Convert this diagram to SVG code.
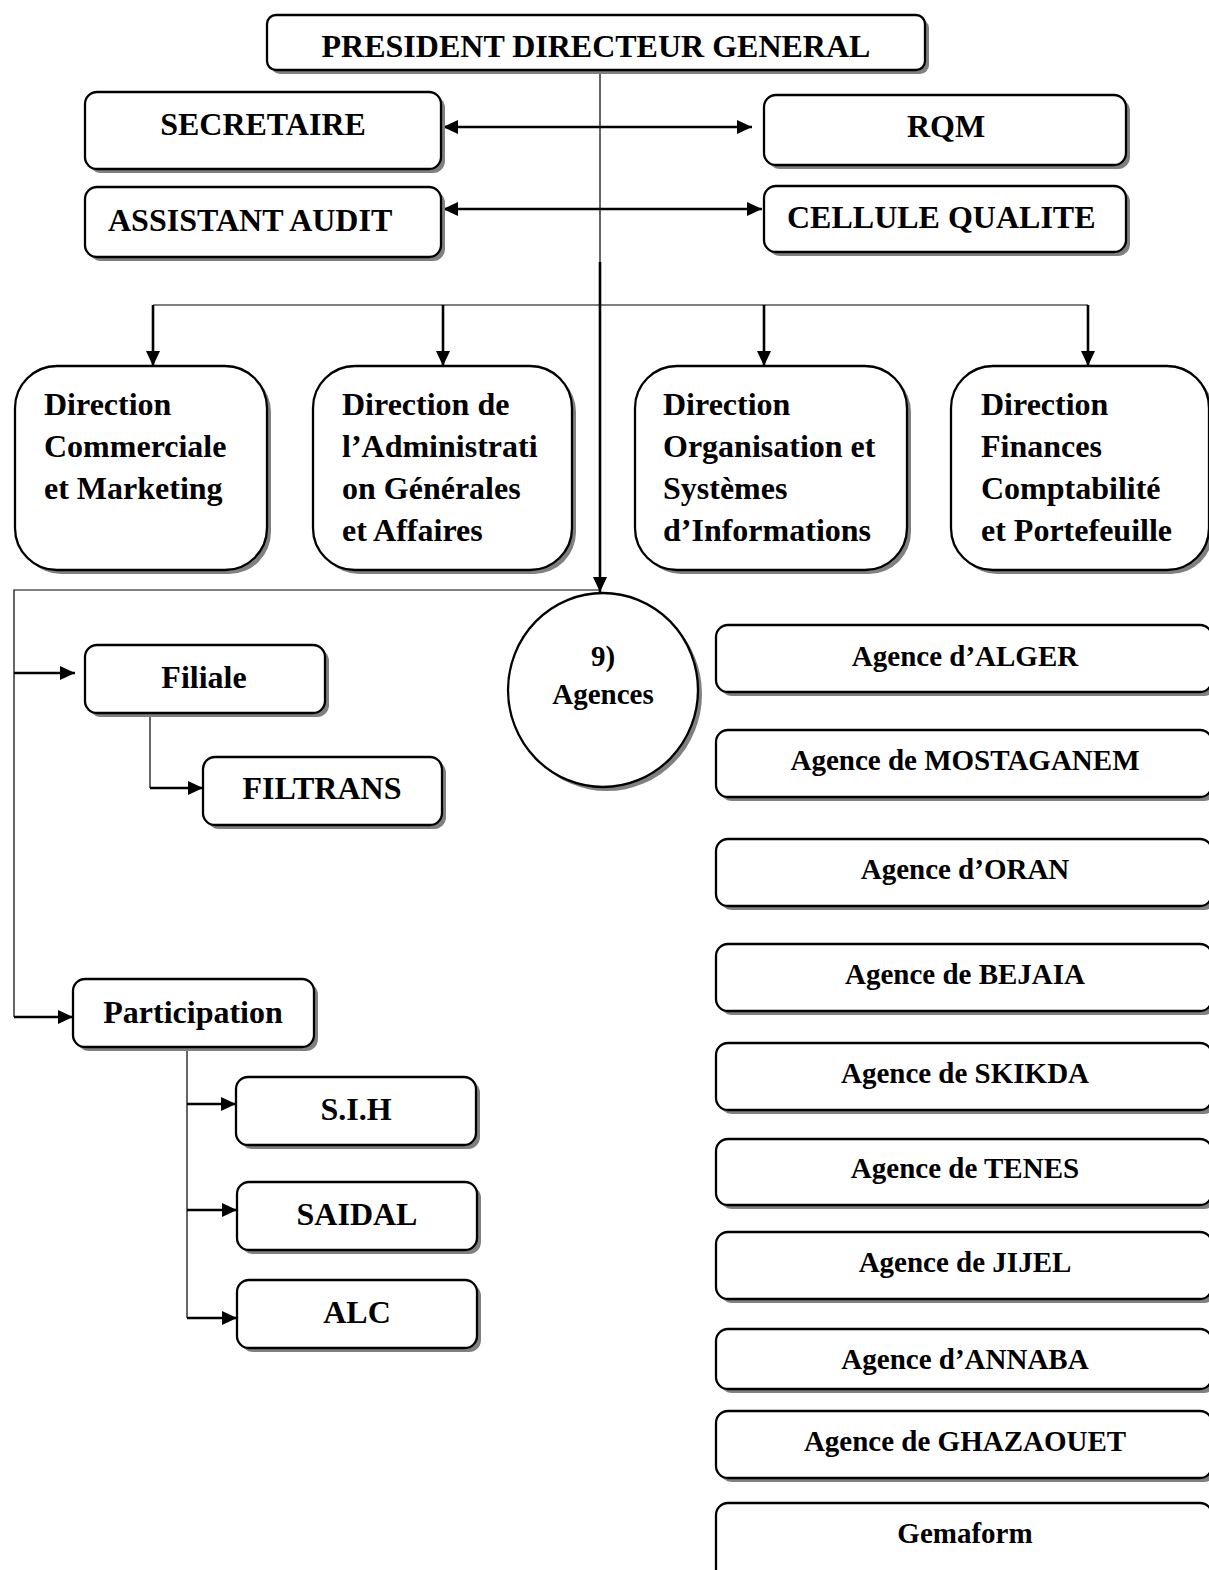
<svg xmlns="http://www.w3.org/2000/svg" width="1209" height="1570" viewBox="0 0 1209 1570">
  <style>
    .box { fill: #ffffff; stroke: #000000; stroke-width: 2.3; }
    .shadow { fill: #808080; stroke: none; }
    .t { font-family: "Liberation Serif", "Times New Roman", serif; font-weight: bold; font-size: 32px; fill: #000000; }
    .ts { font-family: "Liberation Serif", "Times New Roman", serif; font-weight: bold; font-size: 29px; fill: #000000; }
    .c { text-anchor: middle; }
    .thin { stroke: #000000; stroke-width: 1.2; fill: none; }
    .thick { stroke: #000000; stroke-width: 2.6; fill: none; }
  </style>
  <defs>
    <marker id="arrow" viewBox="0 0 15 14" refX="15" refY="7" markerWidth="15" markerHeight="14" markerUnits="userSpaceOnUse" orient="auto-start-reverse">
      <path d="M0,0 L15,7 L0,14 Z" fill="#000000"/>
    </marker>
  </defs>

  <rect width="1209" height="1570" fill="#ffffff"/>

  <!-- connectors -->
  <g id="connectors">
    <!-- PDG trunk -->
    <line class="thin" x1="600" y1="70" x2="600" y2="262"/>
    <line class="thick" x1="600" y1="262" x2="600" y2="592" marker-end="url(#arrow)"/>
    <!-- staff links -->
    <line class="thick" x1="443" y1="127" x2="752" y2="127" marker-start="url(#arrow)" marker-end="url(#arrow)"/>
    <line class="thick" x1="443" y1="209" x2="762" y2="209" marker-start="url(#arrow)" marker-end="url(#arrow)"/>
    <!-- directions bus -->
    <line class="thin" x1="153" y1="305" x2="1088" y2="305"/>
    <line class="thick" x1="153" y1="305" x2="153" y2="366" marker-end="url(#arrow)"/>
    <line class="thick" x1="443" y1="305" x2="443" y2="366" marker-end="url(#arrow)"/>
    <line class="thick" x1="764" y1="305" x2="764" y2="366" marker-end="url(#arrow)"/>
    <line class="thick" x1="1088" y1="305" x2="1088" y2="366" marker-end="url(#arrow)"/>
    <!-- left branch -->
    <polyline class="thin" points="600,590 14,590 14,1017"/>
    <line class="thick" x1="14" y1="673" x2="75" y2="673" marker-end="url(#arrow)"/>
    <line class="thick" x1="14" y1="1017" x2="73" y2="1017" marker-end="url(#arrow)"/>
    <!-- Filiale to FILTRANS -->
    <line class="thin" x1="150" y1="713" x2="150" y2="788"/>
    <line class="thick" x1="150" y1="788" x2="203" y2="788" marker-end="url(#arrow)"/>
    <!-- Participation children -->
    <line class="thin" x1="187" y1="1047" x2="187" y2="1318"/>
    <line class="thick" x1="187" y1="1104" x2="236" y2="1104" marker-end="url(#arrow)"/>
    <line class="thick" x1="187" y1="1210" x2="237" y2="1210" marker-end="url(#arrow)"/>
    <line class="thick" x1="187" y1="1318" x2="237" y2="1318" marker-end="url(#arrow)"/>
  </g>

  <!-- top management -->
  <g id="pdg">
    <rect class="shadow" x="271" y="19" width="658" height="55" rx="9"/>
    <rect class="box" x="267" y="15" width="658" height="55" rx="9"/>
    <text class="t c" x="596" y="57">PRESIDENT DIRECTEUR GENERAL</text>
  </g>
  <g id="secretaire">
    <rect class="shadow" x="89" y="96" width="356" height="77" rx="12"/>
    <rect class="box" x="85" y="92" width="356" height="77" rx="12"/>
    <text class="t c" x="263" y="135">SECRETAIRE</text>
  </g>
  <g id="rqm">
    <rect class="shadow" x="768" y="99" width="362" height="70" rx="12"/>
    <rect class="box" x="764" y="95" width="362" height="70" rx="12"/>
    <text class="t c" x="946" y="137">RQM</text>
  </g>
  <g id="assistant-audit">
    <rect class="shadow" x="89" y="191" width="356" height="70" rx="12"/>
    <rect class="box" x="85" y="187" width="356" height="70" rx="12"/>
    <text class="t" x="108" y="231">ASSISTANT AUDIT</text>
  </g>
  <g id="cellule-qualite">
    <rect class="shadow" x="768" y="190" width="362" height="66" rx="12"/>
    <rect class="box" x="764" y="186" width="362" height="66" rx="12"/>
    <text class="t" x="787" y="228">CELLULE QUALITE</text>
  </g>

  <!-- directions -->
  <g id="dir-commerciale">
    <rect class="shadow" x="19" y="370" width="252" height="204" rx="42"/>
    <rect class="box" x="15" y="366" width="252" height="204" rx="42"/>
    <text class="t" x="44" y="415">Direction</text>
    <text class="t" x="44" y="457">Commerciale</text>
    <text class="t" x="44" y="499">et Marketing</text>
  </g>
  <g id="dir-administration">
    <rect class="shadow" x="317" y="370" width="259" height="204" rx="42"/>
    <rect class="box" x="313" y="366" width="259" height="204" rx="42"/>
    <text class="t" x="342" y="415">Direction de</text>
    <text class="t" x="342" y="457">l’Administrati</text>
    <text class="t" x="342" y="499">on Générales</text>
    <text class="t" x="342" y="541">et Affaires</text>
  </g>
  <g id="dir-organisation">
    <rect class="shadow" x="639" y="370" width="272" height="204" rx="42"/>
    <rect class="box" x="635" y="366" width="272" height="204" rx="42"/>
    <text class="t" x="663" y="415">Direction</text>
    <text class="t" x="663" y="457">Organisation et</text>
    <text class="t" x="663" y="499">Systèmes</text>
    <text class="t" x="663" y="541">d’Informations</text>
  </g>
  <g id="dir-finances">
    <rect class="shadow" x="955" y="370" width="258" height="204" rx="42"/>
    <rect class="box" x="951" y="366" width="258" height="204" rx="42"/>
    <text class="t" x="981" y="415">Direction</text>
    <text class="t" x="981" y="457">Finances</text>
    <text class="t" x="981" y="499">Comptabilité</text>
    <text class="t" x="981" y="541">et Portefeuille</text>
  </g>

  <!-- agencies hub -->
  <g id="agences">
    <ellipse class="shadow" cx="607" cy="694" rx="95" ry="97"/>
    <ellipse class="box" cx="603" cy="690" rx="95" ry="97"/>
    <text class="ts c" x="603" y="666">9)</text>
    <text class="ts c" x="603" y="704">Agences</text>
  </g>

  <!-- filiale / participation -->
  <g id="filiale">
    <rect class="shadow" x="89" y="649" width="240" height="68" rx="12"/>
    <rect class="box" x="85" y="645" width="240" height="68" rx="12"/>
    <text class="t c" x="204" y="688">Filiale</text>
  </g>
  <g id="filtrans">
    <rect class="shadow" x="207" y="761" width="239" height="68" rx="12"/>
    <rect class="box" x="203" y="757" width="239" height="68" rx="12"/>
    <text class="t c" x="322" y="799">FILTRANS</text>
  </g>
  <g id="participation">
    <rect class="shadow" x="77" y="983" width="241" height="68" rx="12"/>
    <rect class="box" x="73" y="979" width="241" height="68" rx="12"/>
    <text class="t c" x="193" y="1023">Participation</text>
  </g>
  <g id="sih">
    <rect class="shadow" x="240" y="1081" width="240" height="68" rx="12"/>
    <rect class="box" x="236" y="1077" width="240" height="68" rx="12"/>
    <text class="t c" x="356" y="1120">S.I.H</text>
  </g>
  <g id="saidal">
    <rect class="shadow" x="241" y="1186" width="240" height="68" rx="12"/>
    <rect class="box" x="237" y="1182" width="240" height="68" rx="12"/>
    <text class="t c" x="357" y="1225">SAIDAL</text>
  </g>
  <g id="alc">
    <rect class="shadow" x="241" y="1284" width="240" height="68" rx="12"/>
    <rect class="box" x="237" y="1280" width="240" height="68" rx="12"/>
    <text class="t c" x="357" y="1323">ALC</text>
  </g>

  <!-- agency list -->
  <g id="agence-alger">
    <rect class="shadow" x="720" y="629" width="496" height="67" rx="12"/>
    <rect class="box" x="716" y="625" width="496" height="67" rx="12"/>
    <text class="ts c" x="965" y="666">Agence d’ALGER</text>
  </g>
  <g id="agence-mostaganem">
    <rect class="shadow" x="720" y="734" width="496" height="67" rx="12"/>
    <rect class="box" x="716" y="730" width="496" height="67" rx="12"/>
    <text class="ts c" x="965" y="770">Agence de MOSTAGANEM</text>
  </g>
  <g id="agence-oran">
    <rect class="shadow" x="720" y="843" width="496" height="67" rx="12"/>
    <rect class="box" x="716" y="839" width="496" height="67" rx="12"/>
    <text class="ts c" x="965" y="879">Agence d’ORAN</text>
  </g>
  <g id="agence-bejaia">
    <rect class="shadow" x="720" y="948" width="496" height="67" rx="12"/>
    <rect class="box" x="716" y="944" width="496" height="67" rx="12"/>
    <text class="ts c" x="965" y="984">Agence de BEJAIA</text>
  </g>
  <g id="agence-skikda">
    <rect class="shadow" x="720" y="1047" width="496" height="67" rx="12"/>
    <rect class="box" x="716" y="1043" width="496" height="67" rx="12"/>
    <text class="ts c" x="965" y="1083">Agence de SKIKDA</text>
  </g>
  <g id="agence-tenes">
    <rect class="shadow" x="720" y="1143" width="496" height="66" rx="12"/>
    <rect class="box" x="716" y="1139" width="496" height="66" rx="12"/>
    <text class="ts c" x="965" y="1178">Agence de TENES</text>
  </g>
  <g id="agence-jijel">
    <rect class="shadow" x="720" y="1236" width="496" height="67" rx="12"/>
    <rect class="box" x="716" y="1232" width="496" height="67" rx="12"/>
    <text class="ts c" x="965" y="1272">Agence de JIJEL</text>
  </g>
  <g id="agence-annaba">
    <rect class="shadow" x="720" y="1333" width="496" height="60" rx="12"/>
    <rect class="box" x="716" y="1329" width="496" height="60" rx="12"/>
    <text class="ts c" x="965" y="1369">Agence d’ANNABA</text>
  </g>
  <g id="agence-ghazaouet">
    <rect class="shadow" x="720" y="1415" width="496" height="67" rx="12"/>
    <rect class="box" x="716" y="1411" width="496" height="67" rx="12"/>
    <text class="ts c" x="965" y="1451">Agence de GHAZAOUET</text>
  </g>
  <g id="gemaform">
    <rect class="box" x="716" y="1503" width="496" height="80" rx="12"/>
    <text class="ts c" x="965" y="1543">Gemaform</text>
  </g>
</svg>
